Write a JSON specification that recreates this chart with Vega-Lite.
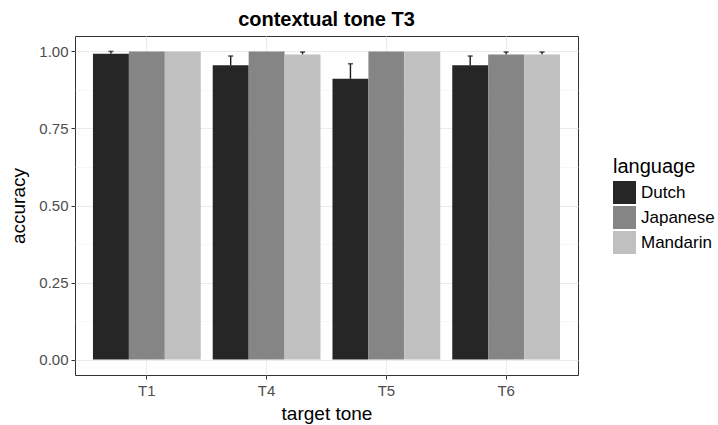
{
  "$schema": "https://vega.github.io/schema/vega-lite/v6.json",
  "width": 503,
  "height": 339,
  "autosize": {"type": "none"},
  "padding": {"left": 75, "top": 36, "right": 140, "bottom": 50},
  "background": "white",
  "title": {
    "text": "contextual tone T3",
    "font": "Liberation Sans",
    "fontSize": 20,
    "fontWeight": "bold",
    "color": "#000000",
    "anchor": "middle",
    "offset": 6
  },
  "config": {
    "font": "Liberation Sans",
    "view": {"stroke": "#333333", "strokeWidth": 1},
    "axis": {
      "domain": false,
      "tickColor": "#333333",
      "tickSize": 4,
      "tickWidth": 1,
      "labelColor": "#4D4D4D",
      "labelFontSize": 15,
      "labelFont": "Liberation Sans",
      "titleFont": "Liberation Sans",
      "titleFontSize": 19,
      "titleFontWeight": "normal",
      "titleColor": "#000000",
      "gridColor": "#EBEBEB",
      "gridWidth": 1.1
    }
  },
  "data": {
    "values": [
      {"tone": "T1", "language": "Dutch", "accuracy": 0.992, "upper": 1.0},
      {"tone": "T1", "language": "Japanese", "accuracy": 1.0, "upper": 1.0},
      {"tone": "T1", "language": "Mandarin", "accuracy": 1.0, "upper": 1.0},
      {"tone": "T4", "language": "Dutch", "accuracy": 0.955, "upper": 0.985},
      {"tone": "T4", "language": "Japanese", "accuracy": 1.0, "upper": 1.0},
      {"tone": "T4", "language": "Mandarin", "accuracy": 0.99, "upper": 0.998},
      {"tone": "T5", "language": "Dutch", "accuracy": 0.911, "upper": 0.96},
      {"tone": "T5", "language": "Japanese", "accuracy": 1.0, "upper": 1.0},
      {"tone": "T5", "language": "Mandarin", "accuracy": 1.0, "upper": 1.0},
      {"tone": "T6", "language": "Dutch", "accuracy": 0.955, "upper": 0.985},
      {"tone": "T6", "language": "Japanese", "accuracy": 0.99, "upper": 0.998},
      {"tone": "T6", "language": "Mandarin", "accuracy": 0.99, "upper": 0.998}
    ]
  },
  "encoding": {
    "x": {
      "field": "tone",
      "type": "nominal",
      "title": "target tone",
      "scale": {"paddingInner": 0.1, "paddingOuter": 0.15},
      "axis": {"labelAngle": 0, "grid": true, "titlePadding": 6, "labelPadding": 4}
    },
    "xOffset": {
      "field": "language",
      "type": "nominal",
      "scale": {"paddingInner": 0, "paddingOuter": 0}
    }
  },
  "layer": [
    {
      "transform": [{"filter": "datum.upper > datum.accuracy"}],
      "mark": {"type": "rule", "color": "#1A1A1A", "strokeWidth": 1.4},
      "encoding": {
        "y": {"field": "accuracy", "type": "quantitative"},
        "y2": {"field": "upper"}
      }
    },
    {
      "transform": [{"filter": "datum.upper > datum.accuracy"}],
      "mark": {"type": "tick", "color": "#1A1A1A", "thickness": 1.6, "size": 5},
      "encoding": {
        "y": {"field": "upper", "type": "quantitative"}
      }
    },
    {
      "mark": {"type": "bar"},
      "encoding": {
        "y": {
          "field": "accuracy",
          "type": "quantitative",
          "title": "accuracy",
          "scale": {"domain": [-0.05, 1.05], "nice": false, "zero": false},
          "axis": {
            "values": [0, 0.125, 0.25, 0.375, 0.5, 0.625, 0.75, 0.875, 1.0],
            "labelExpr": "(datum.value * 4) % 1 == 0 ? format(datum.value, '.2f') : ''",
            "gridColor": {"condition": {"test": "(datum.value * 4) % 1 == 0", "value": "#EBEBEB"}, "value": "#F4F4F4"},
            "gridWidth": {"condition": {"test": "(datum.value * 4) % 1 == 0", "value": 1.1}, "value": 0.6},
            "tickOpacity": {"condition": {"test": "(datum.value * 4) % 1 == 0", "value": 1}, "value": 0},
            "titlePadding": 10,
            "labelPadding": 3
          }
        },
        "y2": {"datum": 0},
        "fill": {
          "field": "language",
          "type": "nominal",
          "title": "language",
          "scale": {"domain": ["Dutch", "Japanese", "Mandarin"], "range": ["#262626", "#858585", "#C0C0C0"]},
          "legend": {
            "orient": "none",
            "legendX": 538,
            "legendY": 121,
            "symbolType": "square",
            "symbolSize": 529,
            "symbolStrokeWidth": 0,
            "symbolOpacity": 1,
            "rowPadding": 2,
            "labelFontSize": 17,
            "labelColor": "#000000",
            "labelOffset": 5,
            "titleFontSize": 20,
            "titleFontWeight": "normal",
            "titleColor": "#000000",
            "titlePadding": 4
          }
        }
      }
    }
  ]
}
